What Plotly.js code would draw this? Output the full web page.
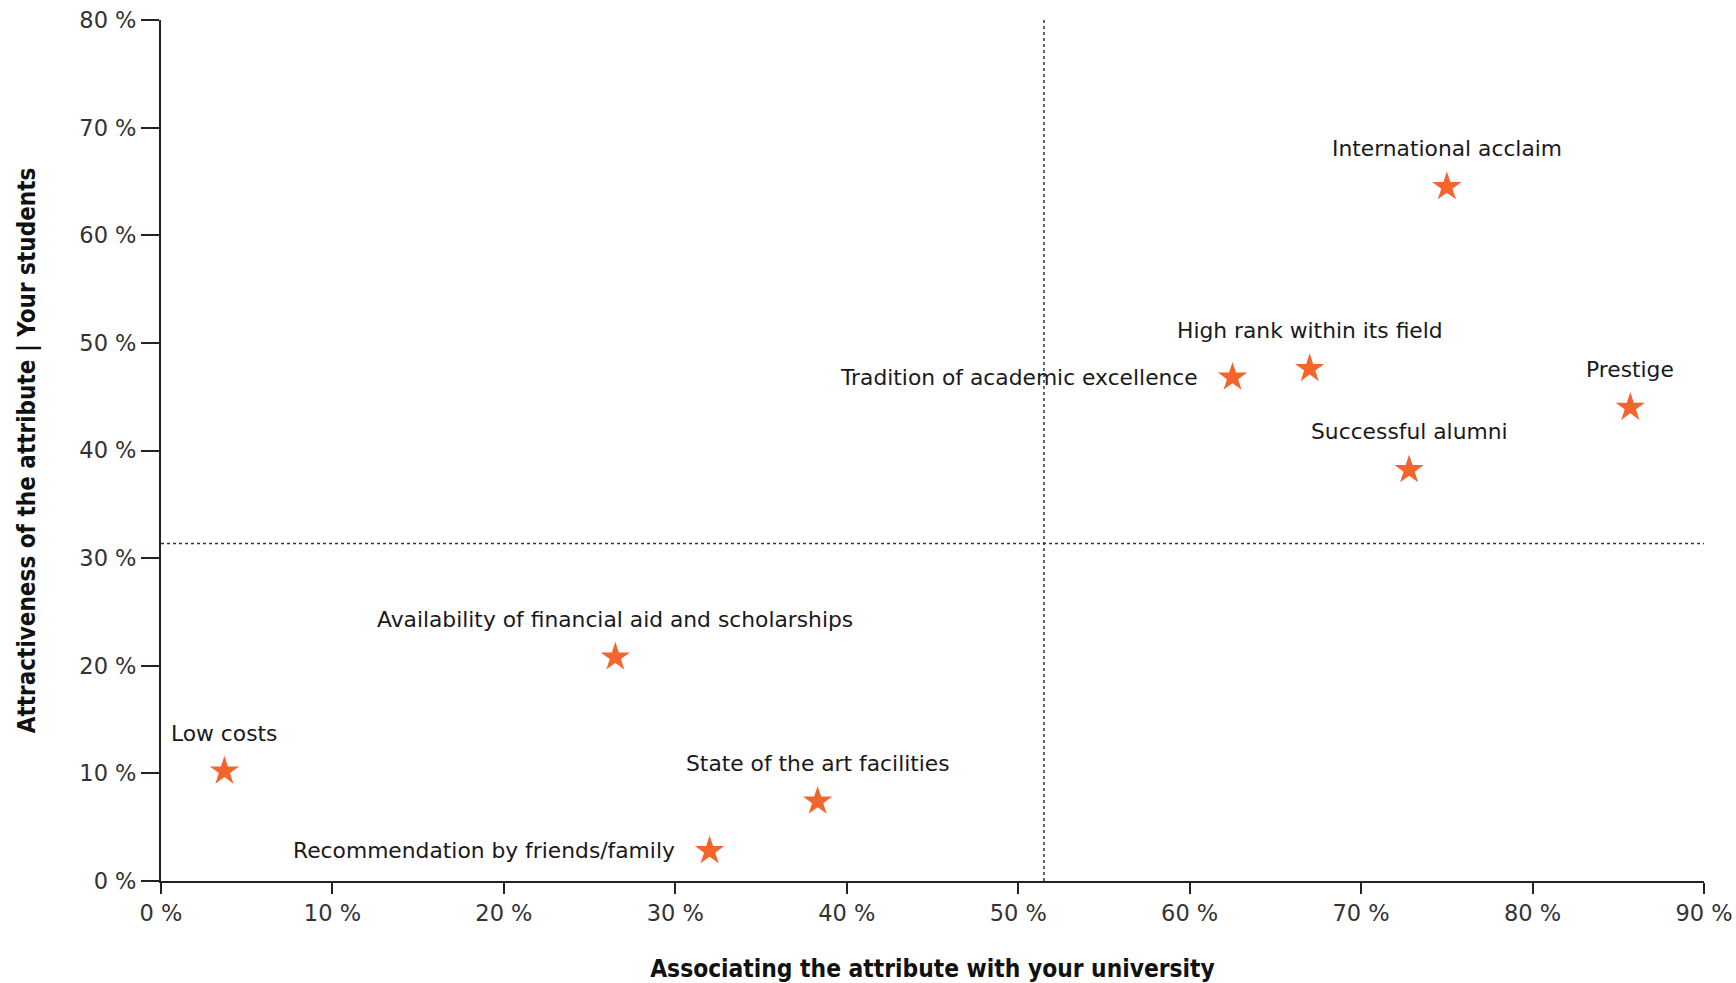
<!DOCTYPE html>
<html>
<head>
<meta charset="utf-8">
<script src="https://cdn.plot.ly/plotly-3.0.1.min.js"></script>
<style>
html,body{margin:0;padding:0;background:#fff;}
#chart{width:1736px;height:983px;}
</style>
</head>
<body>
<div id="chart"></div>
<script>
// Data (percent values)
const attributes = [
  "International acclaim",
  "High rank within its field",
  "Tradition of academic excellence",
  "Prestige",
  "Successful alumni",
  "Availability of financial aid and scholarships",
  "Low costs",
  "State of the art facilities",
  "Recommendation by friends/family"
];
const association = [75.0, 67.0, 62.5, 85.7, 72.8, 26.5, 3.7, 38.3, 32.0];
const attractiveness = [64.5, 47.6, 46.8, 44.0, 38.2, 20.8, 10.2, 7.4, 2.8];
const labelSide = ["top", "top", "left", "top", "top", "top", "top", "top", "left"];
const xTitle = "Associating the attribute with your university";
const yTitle = "Attractiveness of the attribute | Your students";

const mean = a => a.reduce((s, v) => s + v, 0) / a.length;
const meanX = mean(association);
const meanY = mean(attractiveness);

const labelFont = {family: "DejaVu Sans", size: 21.8, color: "#1a1a1a"};
const tickFont = {family: "DejaVu Sans", size: 22.5, color: "#333333"};
const titleFont = {family: "Liberation Sans Narrow, DejaVu Sans Condensed, Arial Narrow, sans-serif", size: 24.3, color: "#111111", weight: 700};
const yTitleFont = {family: "Liberation Sans Narrow, DejaVu Sans Condensed, Arial Narrow, sans-serif", size: 24, color: "#111111", weight: 700};

const trace = {
  type: "scatter",
  mode: "markers",
  x: association,
  y: attractiveness,
  text: attributes,
  hoverinfo: "text",
  marker: {symbol: "star", size: 22, color: "#f2652d", line: {width: 0}},
  showlegend: false
};

const annotations = attributes.map((t, i) => {
  const left = labelSide[i] === "left";
  return {
    x: association[i], y: attractiveness[i], xref: "x", yref: "y",
    text: t, showarrow: false, font: labelFont,
    xanchor: left ? "right" : "center",
    yanchor: "middle",
    xshift: left ? -33 : 0,
    yshift: left ? 0 : 38
  };
});

const layout = {
  width: 1736, height: 983,
  margin: {l: 161, r: 32, t: 20, b: 102},
  paper_bgcolor: "#ffffff", plot_bgcolor: "#ffffff",
  xaxis: {
    range: [0, 90], dtick: 10, tick0: 0, ticksuffix: " %",
    showgrid: false, zeroline: false, showline: true, linecolor: "#222", linewidth: 2,
    ticks: "outside", ticklen: 11, tickcolor: "#222", tickwidth: 2,
    tickfont: tickFont, fixedrange: true,
    title: {text: xTitle, font: titleFont, standoff: 37}
  },
  yaxis: {
    range: [0, 80], dtick: 10, tick0: 0, ticksuffix: " %",
    showgrid: false, zeroline: false, showline: true, linecolor: "#222", linewidth: 2,
    ticks: "outside", ticklen: 18, tickcolor: "#222", tickwidth: 2,
    tickfont: tickFont, fixedrange: true,
    title: {text: yTitle, font: yTitleFont, standoff: 37}
  },
  shapes: [
    {type: "line", xref: "x", yref: "y", x0: meanX, x1: meanX, y0: 0, y1: 80,
     line: {color: "#333", width: 1.5, dash: "dot"}},
    {type: "line", xref: "x", yref: "y", x0: 0, x1: 90, y0: meanY, y1: meanY,
     line: {color: "#333", width: 1.5, dash: "dot"}}
  ],
  annotations: annotations,
  hovermode: "closest"
};

Plotly.newPlot("chart", [trace], layout, {displayModeBar: false, staticPlot: false});
</script>
</body>
</html>
